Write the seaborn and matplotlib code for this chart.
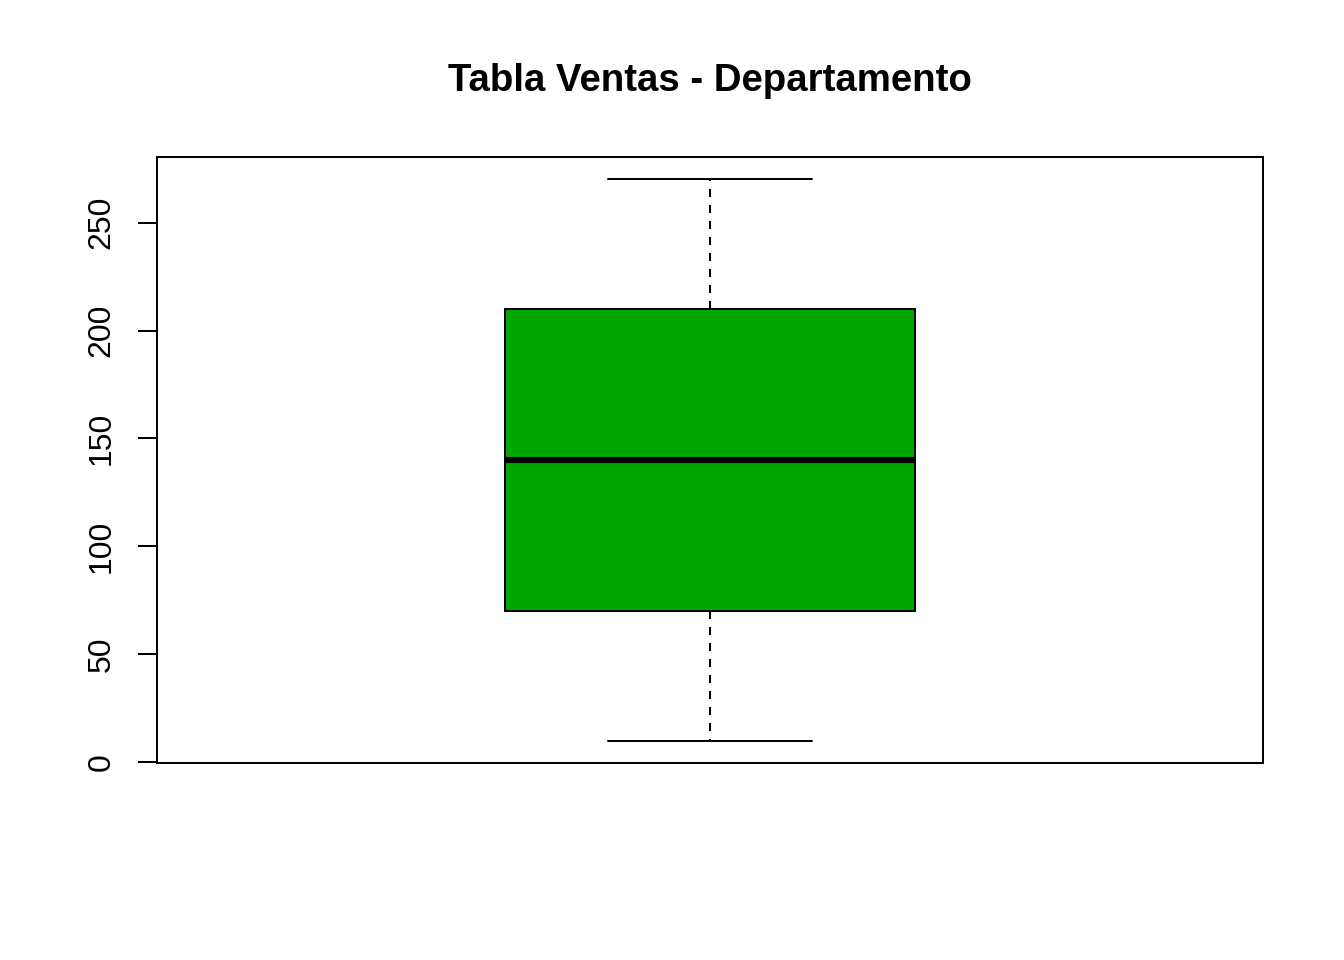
import matplotlib
matplotlib.use("Agg")
import matplotlib.pyplot as plt
import seaborn as sns
import pandas as pd

# Data (Ventas por departamento) reproducing the five-number summary
ventas = [10, 70, 140, 210, 270]
titulo = "Tabla Ventas - Departamento"
yticks = [0, 50, 100, 150, 200, 250]

sns.set_style("white")
plt.rcParams['font.family'] = ['Liberation Sans', 'DejaVu Sans']
plt.rcParams['text.color'] = 'black'
plt.rcParams['ytick.color'] = 'black'
plt.rcParams['ytick.labelcolor'] = 'black'

fig = plt.figure(figsize=(7, 5), dpi=192)
ax = fig.add_axes([157/1344, 1-763/960, (1263-157)/1344, (763-157)/960])

df = pd.DataFrame({"ventas": ventas})
sns.boxplot(data=df, y="ventas", ax=ax, width=0.4, color="#00A600",
            whis=1.5, showfliers=False,
            boxprops=dict(facecolor="#00A600", edgecolor="black", linewidth=0.75),
            medianprops=dict(color="black", linewidth=2.3),
            whiskerprops=dict(color="black", linewidth=0.75, linestyle=(0, (4, 4))),
            capprops=dict(color="black", linewidth=0.75),
            linecolor="black")

ax.set_xlim(-0.54, 0.54)
ax.set_ylim(-0.4, 280.4)
ax.set_yticks(yticks)
ax.set_yticklabels([str(v) for v in yticks], rotation=90, va="center", fontsize=12, color="black")
ax.set_xticks([])
ax.set_xlabel("")
ax.set_ylabel("")
ax.tick_params(axis="y", direction="out", length=7.2, width=0.75, pad=8, left=True,
               color="black", labelcolor="black")
for s in ax.spines.values():
    s.set_visible(True)
    s.set_color("black")
    s.set_linewidth(0.75)

fig.text(710/1344, 1-81/960, titulo, ha="center", va="center", fontsize=14.4,
         fontweight="bold", color="black")

fig.savefig("out.png", dpi=192, facecolor="white")
